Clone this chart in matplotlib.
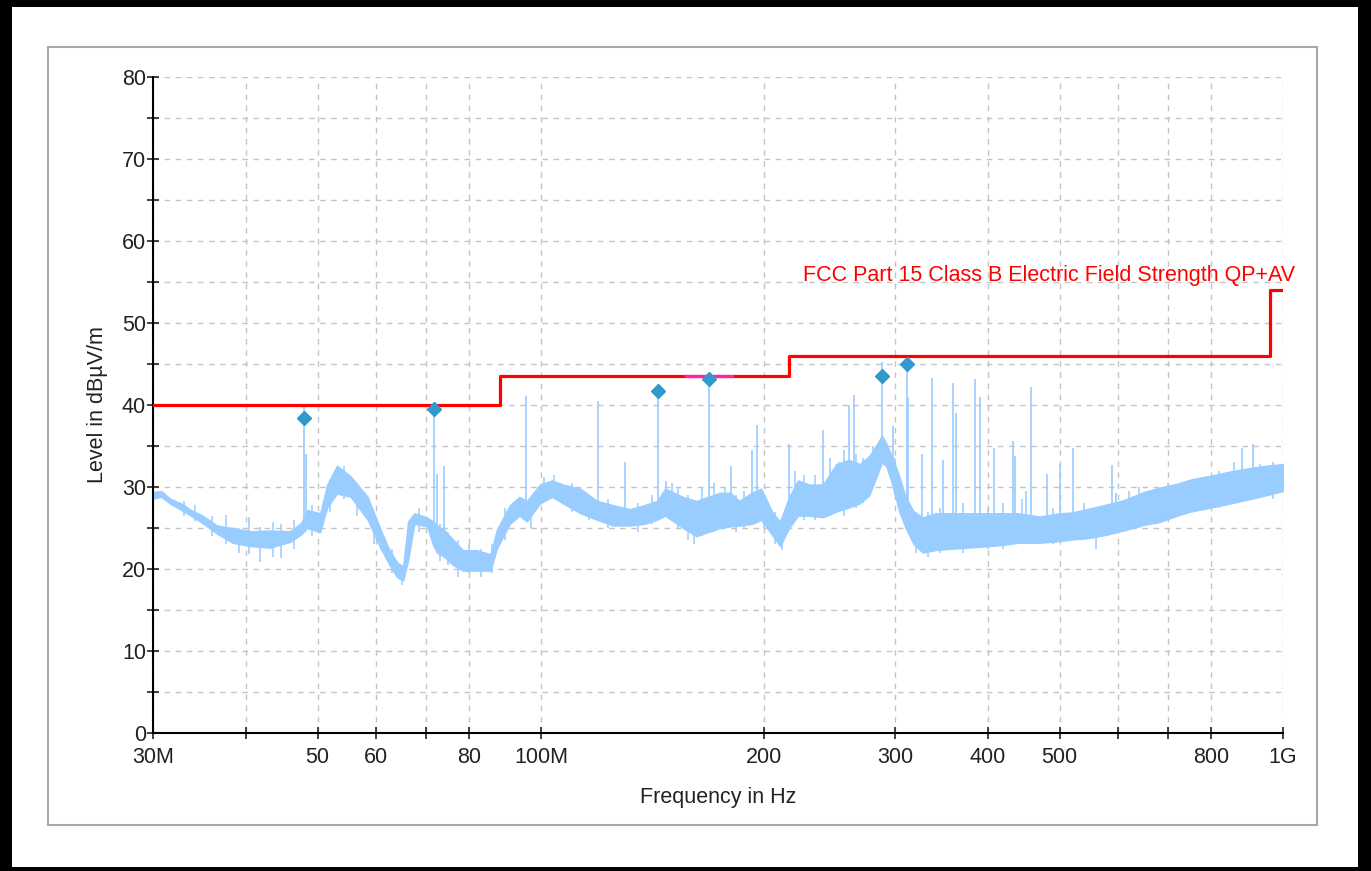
import numpy as np
import matplotlib.pyplot as plt
from matplotlib.patches import Rectangle
from matplotlib.ticker import FixedLocator, FixedFormatter, MultipleLocator, NullLocator

plt.rcParams['font.family'] = ['Liberation Sans', 'DejaVu Sans']

freq = np.array([30.0, 30.8, 31.6, 32.9, 33.6, 35.0, 36.6, 38.4, 40.5, 43.1,
                 45.9, 47.5, 48.4, 50.4, 51.5, 53.1, 55.4, 58.4, 60.8, 62.5,
                 64.0, 65.2, 66.2, 67.5, 70.2, 71.5, 72.4, 74.0, 76.1, 78.5,
                 82.0, 85.5, 87.2, 90.8, 93.5, 95.7, 99.7, 103.5, 107.1, 113.0,
                 119.0, 125.0, 131.7, 138.0, 143.3, 147.0, 155.4, 162.0, 168.0, 174.3,
                 180.0, 185.0, 192.5, 198.0, 205.4, 210.0, 216.0, 222.0, 230.0, 240.0,
                 250.0, 260.0, 269.0, 277.0, 284.0, 288.0, 292.0, 297.0, 304.0, 310.0,
                 318.0, 327.0, 340.0, 360.0, 390.0, 415.0, 440.0, 470.0, 500.0, 520.0,
                 550.0, 580.0, 610.0, 650.0, 680.0, 720.0, 750.0, 800.0, 850.0, 900.0,
                 950.0, 1000.0])
level_lo = np.array([28.6, 28.8, 28.0, 27.1, 26.6, 25.6, 24.3, 23.2, 22.8, 22.6,
                     23.3, 24.2, 25.0, 24.5, 27.5, 29.2, 28.8, 26.0, 22.5, 20.5,
                     19.0, 18.6, 21.0, 25.5, 25.2, 23.0, 22.0, 21.5, 20.5, 19.8,
                     19.8, 19.8, 22.5, 25.5, 26.5, 25.8, 28.0, 28.8, 28.0, 26.8,
                     26.0, 25.3, 25.3, 25.5, 26.0, 26.5, 25.0, 24.0, 24.5, 25.0,
                     25.2, 25.3, 25.5, 26.0, 24.0, 22.8, 25.0, 26.5, 26.5, 26.3,
                     27.0, 27.5, 28.0, 29.0, 31.5, 33.0, 32.5, 30.5, 27.0, 25.0,
                     23.0, 22.0, 22.3, 22.5, 22.7, 22.9, 23.2, 23.2, 23.4, 23.6,
                     23.8, 24.2, 24.7, 25.4, 25.7, 26.5, 27.0, 27.5, 28.0, 28.5,
                     29.0, 29.5])
level_hi = np.array([29.4, 29.5, 28.6, 27.9, 27.3, 26.5, 25.3, 25.0, 24.6, 24.7,
                     24.6, 25.6, 27.2, 26.8, 30.3, 32.6, 31.3, 28.8, 24.8, 22.3,
                     20.8, 20.3, 25.8, 26.8, 26.3, 25.8, 25.3, 24.8, 23.6, 22.3,
                     22.3, 21.8, 24.8, 27.8, 28.8, 28.3, 30.3, 30.8, 30.3, 29.8,
                     28.3, 27.8, 27.3, 27.8, 28.3, 29.8, 28.8, 28.3, 28.8, 29.3,
                     29.3, 28.3, 29.3, 29.8, 26.8, 25.8, 28.8, 30.8, 30.3, 30.3,
                     32.8, 33.3, 32.8, 33.8, 35.3, 36.3, 35.3, 33.8, 31.3, 28.8,
                     27.0, 26.3, 26.8, 26.8, 26.8, 26.8, 26.8, 26.4, 26.8, 26.9,
                     27.4, 27.9, 28.4, 29.4, 29.9, 30.4, 30.9, 31.4, 31.9, 32.3,
                     32.6, 32.8])

# short noise excursions around the trace (MHz, low, high)
jit_f = [33.0, 34.2, 36.0, 37.6, 39.2, 40.4, 41.8, 43.6, 44.6, 46.5,
         49.2, 52.0, 54.2, 56.5, 59.5, 63.0, 65.0, 68.5, 73.0, 75.0,
         77.2, 80.0, 83.0, 86.0, 89.5, 97.0, 101.0, 104.0, 110.0, 116.0,
         123.0, 135.0, 141.0, 150.0, 153.0, 158.0, 161.0, 165.0, 171.0, 177.0,
         183.0, 188.0, 200.0, 207.0, 211.0, 220.0, 226.0, 234.0, 245.0, 252.0,
         256.0, 266.0, 272.0, 280.0, 300.0, 320.0, 332.0, 345.0, 370.0, 400.0,
         420.0, 445.0, 450.0, 490.0, 540.0, 560.0, 620.0, 640.0, 700.0, 760.0,
         820.0, 860.0, 930.0, 970.0]
jit_lo = [26.5, 25.8, 24.0, 23.0, 22.0, 21.8, 20.8, 21.5, 21.4, 22.5,
          24.0, 27.0, 28.5, 26.5, 23.0, 19.5, 18.0, 24.5, 21.0, 20.5,
          19.0, 19.5, 19.0, 19.5, 23.5, 25.0, 28.5, 28.5, 27.0, 26.0,
          25.0, 24.5, 25.5, 26.0, 25.0, 23.5, 23.0, 24.0, 24.5, 25.0,
          24.5, 25.0, 25.0, 23.0, 22.3, 26.0, 26.0, 26.0, 26.5, 27.0,
          26.5, 27.5, 28.0, 30.0, 29.0, 22.0, 21.5, 22.0, 22.0, 22.5,
          22.5, 23.0, 23.5, 23.0, 23.5, 22.5, 25.0, 25.0, 26.0, 27.0,
          27.5, 28.0, 29.0, 28.5]
jit_hi = [28.3, 27.8, 26.5, 26.6, 25.0, 26.4, 25.1, 25.7, 25.5, 26.0,
          27.8, 31.0, 32.5, 30.5, 27.0, 22.5, 20.5, 27.5, 25.5, 24.5,
          23.5, 23.0, 22.5, 23.0, 27.5, 28.5, 31.2, 31.5, 30.5, 29.0,
          28.5, 28.0, 29.0, 30.5, 30.0, 29.0, 28.0, 30.0, 30.5, 30.0,
          29.0, 29.5, 29.0, 27.0, 26.0, 32.0, 31.5, 31.5, 33.5, 33.0,
          34.5, 34.0, 33.5, 35.0, 33.5, 27.0, 27.0, 27.5, 28.0, 27.5,
          28.0, 28.5, 29.5, 27.5, 28.0, 27.0, 29.5, 30.0, 30.5, 31.0,
          32.0, 33.0, 32.8, 33.0]

# narrow spurs sticking out of the trace
spike_f = [47.9, 48.2, 71.7, 72.5, 74.0, 95.6, 119.5, 129.7, 143.7, 147.5,
           168.4, 180.6, 192.6, 195.6, 216.0, 240.0, 260.0, 264.5, 288.2, 298.0,
           311.3, 312.3, 326.2, 336.4, 348.1, 359.0, 362.4, 384.4, 390.4, 408.0,
           432.6, 435.5, 457.5, 480.8, 500.7, 521.3, 588.2, 596.0, 881.0, 911.0]
spike_base = [25, 25, 24, 23, 22, 27, 27, 26, 26, 27,
              26, 26, 26, 26, 25, 27, 28, 28, 34, 31,
              27, 26, 23, 23, 23, 23, 23, 23, 23, 24,
              24, 24, 24, 24, 24, 24, 25, 25, 29, 29]
spike_top = [39.7, 34.0, 40.0, 31.6, 32.6, 41.1, 40.5, 33.1, 41.7, 30.7,
             43.2, 32.5, 34.5, 37.6, 35.3, 37.0, 40.0, 41.2, 45.3, 37.4,
             45.0, 41.0, 34.0, 43.3, 33.3, 42.7, 39.0, 43.2, 41.0, 34.7,
             35.6, 33.8, 42.2, 31.6, 32.8, 34.8, 32.7, 29.3, 34.8, 35.2]

# final measurement points
peak_f = [47.9, 71.7, 143.7, 168.4, 288.2, 311.3]
peak_lvl = [38.4, 39.5, 41.7, 43.2, 43.5, 45.0]

# FCC Part 15 class B limit
limit_f = [30, 88, 88, 216, 216, 960, 960, 1000]
limit_lvl = [40, 40, 43.5, 43.5, 46, 46, 54, 54]

xticks = [30, 40, 50, 60, 70, 80, 100, 200, 300, 400, 500, 600, 700, 800, 1000]
xlabels = ['30M', '', '50', '60', '', '80', '100M', '200', '300', '400', '500', '', '', '800', '1G']

W, H = 1371, 871
fig = plt.figure(figsize=(W / 100, H / 100), dpi=100)
fig.patch.set_facecolor('black')
fig.add_artist(Rectangle((12 / W, 4 / H), (1358 - 12) / W, (864 - 4) / H,
                         transform=fig.transFigure, facecolor='white', edgecolor='none', zorder=-2))
fig.add_artist(Rectangle((48 / W, 1 - 825 / H), (1317 - 48) / W, (825 - 47) / H,
                         transform=fig.transFigure, facecolor='none', edgecolor='#a8a8a8',
                         linewidth=1.5, zorder=-1))

ax = fig.add_axes([153 / W, 1 - 733 / H, 1130 / W, 656 / H])
ax.set_xscale('log')
ax.set_xlim(30, 1000)
ax.set_ylim(0, 80)

trace_c = '#99ccff'
ax.fill_between(freq, level_lo, level_hi, color=trace_c, edgecolor=trace_c, linewidth=1.0, zorder=2)
ax.vlines(jit_f, jit_lo, jit_hi, color=trace_c, linewidth=1.1, zorder=2)
ax.vlines(spike_f, spike_base, spike_top, color=trace_c, linewidth=1.2, zorder=2)

ax.plot(limit_f, limit_lvl, color='#ff0000', linewidth=2.3, zorder=3)
ax.plot([157, 181], [43.5, 43.5], color='#ff22aa', linewidth=2.3, zorder=3)
ax.plot(peak_f, peak_lvl, 'D', color='#3399cc', markersize=7, zorder=5)

ax.annotate('FCC Part 15 Class B Electric Field Strength QP+AV', xy=(1000, 54),
            xytext=(9, 3), textcoords='offset points', ha='right', va='bottom',
            color='#ff0000', fontsize=15.5, annotation_clip=False)

ax.xaxis.set_major_locator(FixedLocator(xticks))
ax.xaxis.set_major_formatter(FixedFormatter(xlabels))
ax.xaxis.set_minor_locator(NullLocator())
ax.yaxis.set_major_locator(MultipleLocator(10))
ax.yaxis.set_minor_locator(MultipleLocator(5))

ax.grid(True, which='both', color='#c4c4c4', linestyle=(0, (4, 4)), linewidth=1.0)
ax.set_axisbelow(True)
for s in ['top', 'right']:
    ax.spines[s].set_visible(False)
for s in ['left', 'bottom']:
    ax.spines[s].set_linewidth(1.5)

ax.tick_params(which='both', direction='inout', length=8, width=1.2, labelsize=15.5, colors='#222222')
ax.tick_params(axis='x', pad=6)
ax.tick_params(axis='y', pad=1)

ax.set_xlabel('Frequency in Hz', fontsize=15.5, color='#222222', labelpad=14)
ax.set_ylabel('Level in dBµV/m', fontsize=15.5, color='#222222', labelpad=10)

fig.savefig('out.png', dpi=100, facecolor=fig.get_facecolor())
